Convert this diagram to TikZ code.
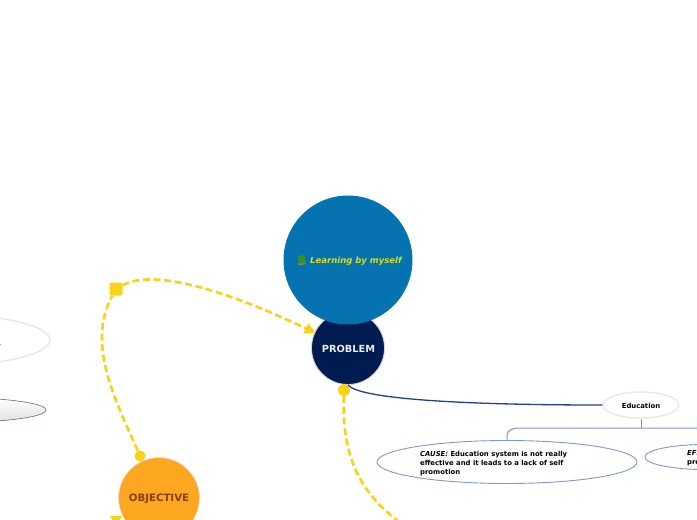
\documentclass[tikz,border=0pt]{standalone}
\usepackage{fontspec}
\setmainfont{DejaVu Sans}
\usetikzlibrary{shapes.geometric}
\definecolor{ylw}{HTML}{F9D31B}
\definecolor{topblue}{HTML}{0473AF}
\definecolor{navy}{HTML}{001B4F}
\definecolor{org}{HTML}{FCA71F}
\definecolor{brn}{HTML}{8A3F10}
\definecolor{lineblue}{HTML}{1F3F8F}
\definecolor{thin}{HTML}{7F9AC8}
\definecolor{bookgreen}{HTML}{3A8F2A}
\definecolor{labelyellow}{HTML}{D9DE1E}
\tikzset{
  x=1pt,y=-1pt,
  yellowlink/.style={draw=ylw,line width=2.7pt,dash pattern=on 7pt off 3.6pt},
  dotnode/.style={circle,fill=ylw,inner sep=0pt,minimum size=12pt},
  thinlink/.style={draw=thin,line width=1pt},
  bubble/.style={ellipse,draw=thin,fill=white,line width=.9pt,inner sep=0pt},
  softshadow/.style={draw=black!9,line width=1.4pt,fill=white},
  smalltext/.style={anchor=west,align=left,inner sep=0pt,font=\bfseries\fontsize{6.85}{8.9}\selectfont},
}
\begin{document}
\begin{tikzpicture}
\useasboundingbox (0,0) rectangle (697,520);
\clip (0,0) rectangle (697,520);
% left partial bubbles
\node[softshadow,ellipse,minimum width=200pt,minimum height=50pt,inner sep=0pt] (leftA) at (-50,340) {};
\draw[black!35,line width=.8pt] (0,344) -- (1,344);
\node[ellipse,draw=thin!70!black,line width=.6pt,minimum width=186pt,minimum height=25pt,inner sep=0pt,top color=white,bottom color=black!12] (leftB) at (-47,410) {};
% circles
\node[circle,fill=navy,draw=black!15,line width=.8pt,minimum size=73pt,inner sep=0pt] (problem) at (348,348) {};
\node[circle,fill=topblue,minimum size=129pt,inner sep=0pt] (topic) at (348,260) {};
\node[text=white!92!black,font=\bfseries\fontsize{9.8}{11}\selectfont] at (348.5,348.6) (problabel) {PROBLEM};
\fill[black!45] (298,263.5) -- (299,265) -- (305,264.2) -- (305,262.5) -- cycle;
\fill[bookgreen] (297.5,256) -- (304.5,255) -- (306,263) -- (299,264) -- cycle;
\node[anchor=west,inner sep=0pt,font=\bfseries\itshape\fontsize{8.5}{10}\selectfont,text=labelyellow] (topiclabel) at (310,261.3) {Learning by myself};
\node[circle,fill=org,draw=black!12,line width=.8pt,minimum size=81pt,inner sep=0pt] (objective) at (159,498) {};
\node[text=brn,font=\bfseries\fontsize{10.2}{12}\selectfont] (objlabel) at (159,498.8) {OBJECTIVE};
% helper points
\node[dotnode] (dotA) at (344,390) {};
\node[dotnode,minimum size=11pt] (dotB) at (140,456) {};
\node[fill=ylw,rounded corners=2pt,minimum size=13pt,inner sep=0pt] (square) at (116,289) {};
\coordinate (offA) at (402,524);
\fill[ylw] (110,516) -- (122,516) -- (116,526) -- cycle;
% yellow links
\draw[yellowlink] (dotB) .. controls (118,405) and (85,345) .. (square);
\coordinate (arrowEnd) at (306,328.5);
\draw[yellowlink] (square) .. controls (150,270) and (215,285) .. (arrowEnd);
\fill[ylw] (308.3,323.3) -- (315.5,332.7) -- (303.2,333.3) -- cycle;
\draw[yellowlink] (dotA) .. controls (342,450) and (355,490) .. (offA);
% Education
\node[softshadow,ellipse,minimum width=76pt,minimum height=26pt,inner sep=0pt] (edu) at (641,405) {};
\node[font=\bfseries\fontsize{6.85}{8}\selectfont] (edulabel) at (641,405.6) {Education};
\draw[draw=lineblue,line width=1.3pt] (problem.south) .. controls (358,398) and (450,405) .. (edu.west);
% sub branches
\coordinate (hubE) at (641,428);
\coordinate (rightE) at (700,428);
\node[bubble,minimum width=260pt,minimum height=43pt] (cause) at (507,462) {};
\node[bubble,minimum width=120pt,minimum height=25pt] (effect) at (705,457) {};
\draw[thinlink] (edu.south) -- (hubE);
\draw[thinlink] (cause.north) -- (507,436) .. controls (507,430) and (512,428) .. (520,428) -- (hubE) -- (rightE);
\node[smalltext] (causetext) at (420,463.8) {\textit{CAUSE:} Education system is not really\\effective and it leads to a lack of self\\promotion};
\node[smalltext] (efftext) at (687,458) {\textit{EFFECT:}\\promotion};
\end{tikzpicture}
\end{document}
